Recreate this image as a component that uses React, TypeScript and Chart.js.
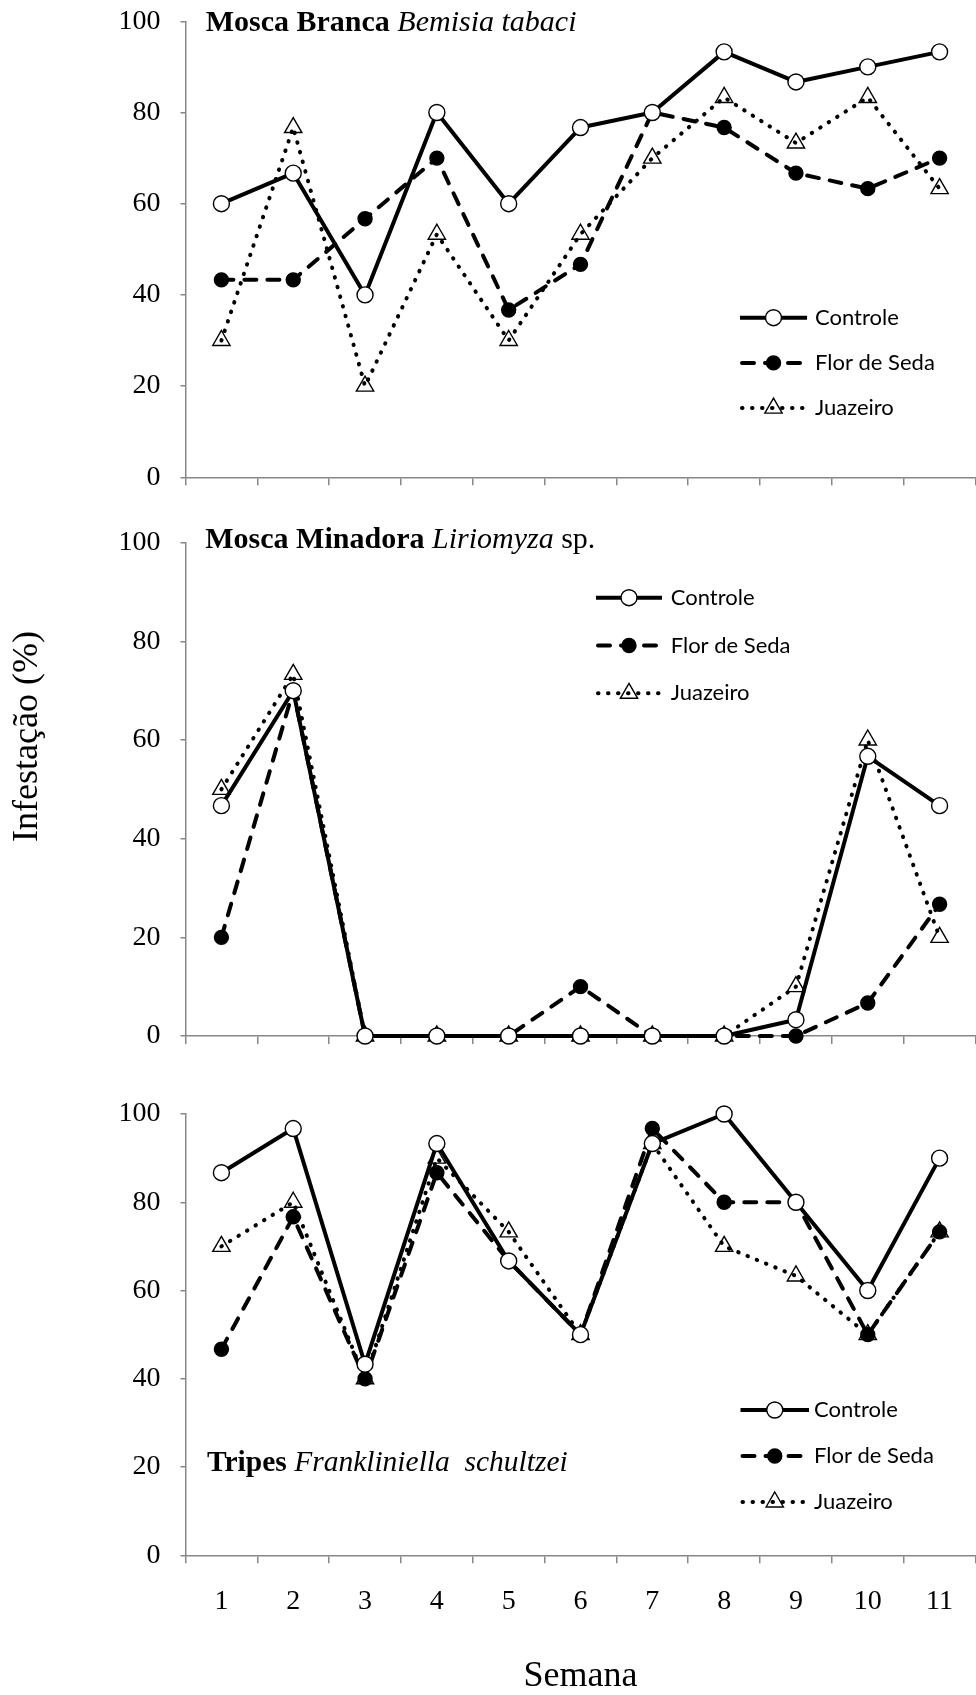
import React, { useEffect, useRef } from 'react';
import { Chart, registerables } from 'chart.js';

Chart.register(...registerables);

// ---------- data ----------
const semanas = ['1', '2', '3', '4', '5', '6', '7', '8', '9', '10', '11'];
const seriesNames = ['Controle', 'Flor de Seda', 'Juazeiro'];
const yTickMin = 0;
const yTickMax = 100;
const yTickStep = 20;

const brancaControle = [60, 66.7, 40, 80, 60, 76.7, 80, 93.3, 86.7, 90, 93.3];
const brancaFlor = [43.3, 43.3, 56.7, 70, 36.7, 46.7, 80, 76.7, 66.7, 63.3, 70];
const brancaJuazeiro = [30, 76.7, 20, 53.3, 30, 53.3, 70, 83.3, 73.3, 83.3, 63.3];

const minadoraControle = [46.7, 70, 0, 0, 0, 0, 0, 0, 3.3, 56.7, 46.7];
const minadoraFlor = [20, 70, 0, 0, 0, 10, 0, 0, 0, 6.7, 26.7];
const minadoraJuazeiro = [50, 73.3, 0, 0, 0, 0, 0, 0, 10, 60, 20];

const tripesControle = [86.7, 96.7, 43.3, 93.3, 66.7, 50, 93.3, 100, 80, 60, 90];
const tripesFlor = [46.7, 76.7, 40, 86.7, 66.7, 50, 96.7, 80, 80, 50, 73.3];
const tripesJuazeiro = [70, 80, 40, 90, 73.3, 50, 93.3, 70, 63.3, 50, 73.3];

type Seg = { text: string; bold?: boolean; italic?: boolean };
const titleBranca: Seg[] = [
  { text: 'Mosca Branca', bold: true },
  { text: ' Bemisia tabaci', italic: true },
];
const titleMinadora: Seg[] = [
  { text: 'Mosca Minadora', bold: true },
  { text: ' ' },
  { text: 'Liriomyza', italic: true },
  { text: ' sp.' },
];
const titleTripes: Seg[] = [
  { text: 'Tripes', bold: true },
  { text: ' Frankliniella  schultzei', italic: true },
];
const yAxisTitle = 'Infestação (%)';
const xAxisTitle = 'Semana';

// ---------- styles ----------
const W = 976;
const AXIS = '#878787';
const SERIF = '"Liberation Serif", "Times New Roman", serif';
const SANS = 'Lato, "Noto Sans", sans-serif';
const TICK_FONT = 28;

type Panel = {
  top: number;
  height: number;
  padTop: number;
  xHeight: number;
  showX: boolean;
  values: number[][];
  title: Seg[];
  titleSize: number;
  titleX: number;
  titleY: number;
  legendX: number;
  legendLen: number;
  legendY: number;
  legendGap: number;
  textX: number;
  yTitle?: { x: number; y: number };
};

const panels: Panel[] = [
  {
    top: 0, height: 500, padTop: 21.3, xHeight: 22.7, showX: false,
    values: [brancaControle, brancaFlor, brancaJuazeiro],
    title: titleBranca, titleSize: 30, titleX: 205.7, titleY: 30.7,
    legendX: 740, legendLen: 67, legendY: 317.7, legendGap: 45.2, textX: 815,
  },
  {
    top: 500, height: 560, padTop: 42.7, xHeight: 24, showX: false,
    values: [minadoraControle, minadoraFlor, minadoraJuazeiro],
    title: titleMinadora, titleSize: 30, titleX: 205.3, titleY: 47.5,
    legendX: 596, legendLen: 66, legendY: 97.7, legendGap: 47.8, textX: 670.7,
    yTitle: { x: 37.3, y: 236.5 },
  },
  {
    top: 1060, height: 635, padTop: 54, xHeight: 139.7, showX: true,
    values: [tripesControle, tripesFlor, tripesJuazeiro],
    title: titleTripes, titleSize: 29.5, titleX: 207, titleY: 410.5,
    legendX: 740.5, legendLen: 68.5, legendY: 350, legendGap: 46, textX: 814,
  },
];

const seriesStyles = [
  { borderWidth: 4, borderDash: [] as number[], cap: 'butt', pointStyle: 'circle', radius: 8, fill: '#ffffff' },
  { borderWidth: 4, borderDash: [12, 11], cap: 'round', pointStyle: 'circle', radius: 7, fill: '#000000' },
  { borderWidth: 4, borderDash: [0.5, 9.5], cap: 'round', pointStyle: 'triangle', radius: 10, fill: 'rgba(0,0,0,0)' },
];

function drawMarker(ctx: CanvasRenderingContext2D, i: number, x: number, y: number) {
  const s = seriesStyles[i];
  ctx.save();
  ctx.setLineDash([]);
  ctx.lineWidth = 1.4;
  ctx.strokeStyle = '#000';
  ctx.fillStyle = s.fill;
  ctx.beginPath();
  if (s.pointStyle === 'circle') {
    ctx.arc(x, y, s.radius, 0, Math.PI * 2);
  } else {
    let rad = 0;
    ctx.moveTo(x + Math.sin(rad) * s.radius, y - Math.cos(rad) * s.radius);
    rad += (Math.PI * 2) / 3;
    ctx.lineTo(x + Math.sin(rad) * s.radius, y - Math.cos(rad) * s.radius);
    rad += (Math.PI * 2) / 3;
    ctx.lineTo(x + Math.sin(rad) * s.radius, y - Math.cos(rad) * s.radius);
    ctx.closePath();
  }
  ctx.fill();
  ctx.stroke();
  ctx.restore();
}

function makeTextPlugin(p: Panel) {
  return {
    id: 'panelText',
    afterDraw(chart: Chart) {
      const ctx = chart.ctx;
      ctx.save();
      ctx.fillStyle = '#000';
      ctx.textAlign = 'left';
      ctx.textBaseline = 'alphabetic';
      let x = p.titleX;
      for (const seg of p.title) {
        ctx.font = `${seg.italic ? 'italic ' : ''}${seg.bold ? 'bold ' : ''}${p.titleSize}px ${SERIF}`;
        ctx.fillText(seg.text, x, p.titleY);
        x += ctx.measureText(seg.text).width;
      }
      // legend
      seriesNames.forEach((name, i) => {
        const s = seriesStyles[i];
        const y = p.legendY + i * p.legendGap;
        ctx.save();
        ctx.strokeStyle = '#000';
        ctx.lineWidth = s.borderWidth;
        ctx.setLineDash(s.borderDash);
        ctx.lineCap = s.cap as CanvasLineCap;
        ctx.beginPath();
        ctx.moveTo(p.legendX + (s.cap === 'round' ? s.borderWidth / 2 : 0), y);
        ctx.lineTo(p.legendX + p.legendLen, y);
        ctx.stroke();
        ctx.restore();
        drawMarker(ctx, i, p.legendX + p.legendLen / 2, y);
        ctx.fillStyle = '#000';
        ctx.font = `22px ${SANS}`;
        ctx.textBaseline = 'middle';
        ctx.textAlign = 'left';
        ctx.fillText(name, p.textX, y);
      });
      if (p.yTitle) {
        ctx.save();
        ctx.translate(p.yTitle.x, p.yTitle.y);
        ctx.rotate(-Math.PI / 2);
        ctx.font = `36px ${SERIF}`;
        ctx.textAlign = 'center';
        ctx.textBaseline = 'alphabetic';
        ctx.fillText(yAxisTitle, 0, 0);
        ctx.restore();
      }
      ctx.restore();
    },
  };
}

function makeConfig(p: Panel): any {
  return {
    type: 'line',
    data: {
      labels: semanas,
      datasets: seriesNames.map((name, i) => {
        const s = seriesStyles[i];
        return {
          label: name,
          data: p.values[i],
          borderColor: '#000',
          borderWidth: s.borderWidth,
          borderDash: s.borderDash,
          borderCapStyle: s.cap,
          borderJoinStyle: 'round',
          tension: 0,
          fill: false,
          clip: false,
          pointStyle: s.pointStyle,
          pointRadius: s.radius,
          pointBackgroundColor: s.fill,
          pointBorderColor: '#000',
          pointBorderWidth: 1.4,
        };
      }),
    },
    options: {
      animation: false,
      responsive: false,
      maintainAspectRatio: false,
      devicePixelRatio: 1,
      events: [],
      layout: { autoPadding: false, padding: { top: p.padTop, right: 0.5, left: 0, bottom: 0 } },
      plugins: {
        legend: { display: false },
        tooltip: { enabled: false },
        title: { display: false },
      },
      scales: {
        x: {
          type: 'category',
          offset: true,
          grid: {
            offset: true,
            drawOnChartArea: false,
            drawTicks: true,
            tickLength: 8,
            color: AXIS,
            lineWidth: 1.5,
          },
          border: { display: true, color: AXIS, width: 1.5 },
          ticks: {
            display: p.showX,
            color: '#000',
            font: { family: SERIF, size: TICK_FONT },
            padding: 22,
            maxRotation: 0,
            autoSkip: false,
          },
          title: {
            display: p.showX,
            text: xAxisTitle,
            color: '#000',
            font: { family: SERIF, size: 36, lineHeight: 1 },
            padding: { top: 0, bottom: 0 },
          },
          afterFit: (s: any) => {
            s.height = p.xHeight;
            s.paddingLeft = 0;
            s.paddingRight = 0;
            s.paddingTop = 0;
            s.paddingBottom = 0;
          },
        },
        y: {
          min: yTickMin,
          max: yTickMax,
          ticks: {
            stepSize: yTickStep,
            color: '#000',
            font: { family: SERIF, size: TICK_FONT },
            padding: 20,
          },
          grid: {
            drawOnChartArea: false,
            drawTicks: true,
            tickLength: 5,
            color: AXIS,
            lineWidth: 1.5,
          },
          border: { display: true, color: AXIS, width: 1.5 },
          afterFit: (s: any) => {
            s.width = 185.5;
            s.paddingTop = 0;
            s.paddingBottom = 0;
            s.paddingLeft = 0;
            s.paddingRight = 0;
          },
        },
      },
    },
    plugins: [makeTextPlugin(p)],
  };
}

function PanelChart({ p }: { p: Panel }) {
  const ref = useRef<HTMLCanvasElement | null>(null);
  useEffect(() => {
    if (!ref.current) return;
    const chart = new Chart(ref.current, makeConfig(p));
    return () => chart.destroy();
  }, [p]);
  return (
    <canvas
      ref={ref}
      width={W}
      height={p.height}
      style={{ position: 'absolute', left: 0, top: p.top, width: W, height: p.height }}
    />
  );
}

export default function App() {
  return (
    <div style={{ position: 'absolute', left: 0, top: 0, width: W, height: 1695, background: '#fff', overflow: 'hidden' }}>
      {panels.map((p, i) => (
        <PanelChart key={i} p={p} />
      ))}
    </div>
  );
}
